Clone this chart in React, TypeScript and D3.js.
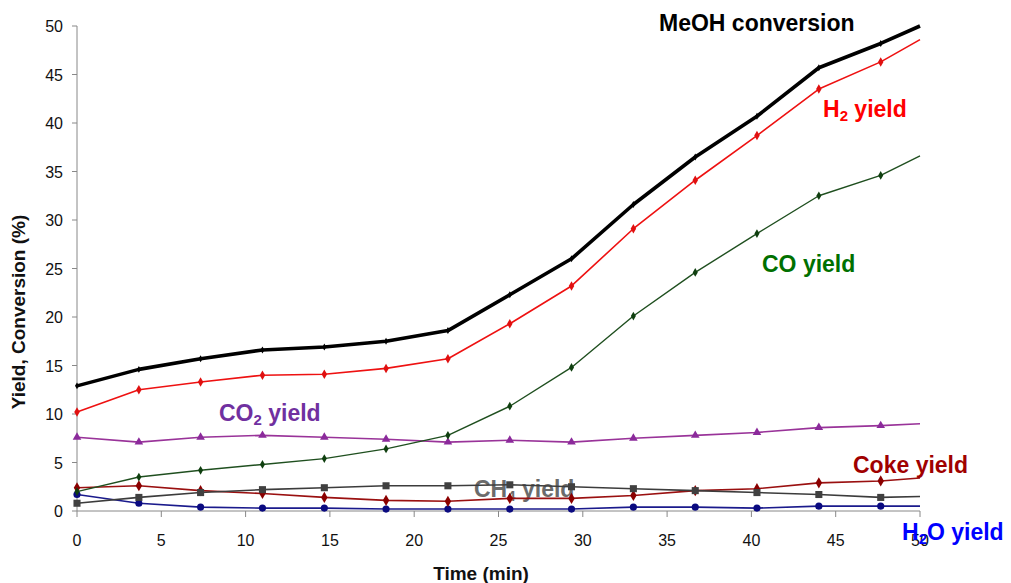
import React from "react";
import * as d3 from "d3";

// Sampling times (min); the final entry marks where each trace meets the frame edge
const times = [0, 3.67, 7.33, 11, 14.67, 18.33, 22, 25.67, 29.33, 33, 36.67, 40.33, 44, 47.67, 50];

const meohConversion = [12.9, 14.6, 15.7, 16.6, 16.9, 17.5, 18.6, 22.3, 26.0, 31.6, 36.5, 40.7, 45.7, 48.2, 50.0];
const h2Yield = [10.2, 12.5, 13.3, 14.0, 14.1, 14.7, 15.7, 19.3, 23.2, 29.1, 34.1, 38.7, 43.5, 46.3, 48.6];
const coYield = [2.0, 3.5, 4.2, 4.8, 5.4, 6.4, 7.8, 10.8, 14.8, 20.1, 24.6, 28.6, 32.5, 34.6, 36.6];
const co2Yield = [7.6, 7.1, 7.6, 7.8, 7.6, 7.4, 7.1, 7.3, 7.1, 7.5, 7.8, 8.1, 8.6, 8.8, 9.0];
const ch4Yield = [0.8, 1.4, 1.9, 2.2, 2.4, 2.6, 2.6, 2.7, 2.5, 2.3, 2.1, 1.9, 1.7, 1.4, 1.5];
const cokeYield = [2.4, 2.6, 2.1, 1.8, 1.4, 1.1, 1.0, 1.3, 1.3, 1.6, 2.1, 2.3, 2.9, 3.1, 3.4];
const h2oYield = [1.7, 0.8, 0.4, 0.3, 0.3, 0.2, 0.2, 0.2, 0.2, 0.4, 0.4, 0.3, 0.5, 0.5, 0.5];

const xTicks = [0, 5, 10, 15, 20, 25, 30, 35, 40, 45, 50];
const yTicks = [0, 5, 10, 15, 20, 25, 30, 35, 40, 45, 50];

type Series = {
  name: string;
  values: number[];
  stroke: string;
  width: number;
  marker: d3.SymbolType;
  markerSize: number;
  markerFill: string;
};

const seriesList: Series[] = [
  { name: "h2o", values: h2oYield, stroke: "#1a1a8c", width: 1.6, marker: d3.symbolCircle, markerSize: 40, markerFill: "#0a0a80" },
  { name: "coke", values: cokeYield, stroke: "#9a1010", width: 1.6, marker: d3.symbolDiamond, markerSize: 36, markerFill: "#8b0000" },
  { name: "ch4", values: ch4Yield, stroke: "#3c3c3c", width: 1.6, marker: d3.symbolSquare, markerSize: 50, markerFill: "#404040" },
  { name: "co2", values: co2Yield, stroke: "#993399", width: 1.6, marker: d3.symbolTriangle, markerSize: 32, markerFill: "#8b2a9b" },
  { name: "co", values: coYield, stroke: "#1f4f1f", width: 1.4, marker: d3.symbolDiamond, markerSize: 22, markerFill: "#0f3f0f" },
  { name: "h2", values: h2Yield, stroke: "#ee1111", width: 1.6, marker: d3.symbolDiamond, markerSize: 26, markerFill: "#e01010" },
  { name: "meoh", values: meohConversion, stroke: "#000000", width: 3.6, marker: d3.symbolDiamond, markerSize: 14, markerFill: "#000000" },
];

type Label = { text: string; sub?: string; rest?: string; x: number; y: number; color: string };

const labels: Label[] = [
  { text: "MeOH conversion", x: 659, y: 31, color: "#000000" },
  { text: "H", sub: "2", rest: " yield", x: 823, y: 117, color: "#ff0000" },
  { text: "CO yield", x: 762, y: 272, color: "#007000" },
  { text: "CO", sub: "2", rest: " yield", x: 219, y: 421, color: "#7030a0" },
  { text: "Coke yield", x: 853, y: 473, color: "#a00000" },
  { text: "H", sub: "2", rest: "O yield", x: 902, y: 540, color: "#0000ff" },
];

const W = 1011;
const H = 583;
const left = 77;
const right = 920;
const top = 26;
const bottom = 511;

const LABEL_SIZE = 23;
const SUB_SIZE = 15;

export default function App() {
  const x = d3.scaleLinear().domain([0, 50]).range([left, right]);
  const y = d3.scaleLinear().domain([0, 50]).range([bottom, top]);
  const line = d3
    .line<number>()
    .x((_, i) => x(times[i]))
    .y((v) => y(v));

  const font = "'Liberation Sans', Arial, sans-serif";

  return (
    <svg
      width={W}
      height={H}
      style={{ position: "absolute", left: 0, top: 0, background: "#fff" }}
      fontFamily={font}
    >
      {/* CH4 label sits beneath its own trace */}
      <text x={474} y={497} fontSize={LABEL_SIZE} fontWeight="bold" fill="#6b6b6b">
        CH<tspan fontSize={SUB_SIZE} dy={4}>4</tspan>
        <tspan dy={-4}> yield</tspan>
      </text>

      {/* axes */}
      <line x1={left} x2={left} y1={top} y2={bottom} stroke="#888" strokeWidth={1} />
      <line x1={left} x2={right} y1={bottom} y2={bottom} stroke="#888" strokeWidth={1} />
      {yTicks.map((t) => (
        <g key={"y" + t}>
          <line x1={left - 5} x2={left} y1={y(t)} y2={y(t)} stroke="#888" />
          <text x={63} y={y(t) + 6} textAnchor="end" fontSize={16} fill="#111">
            {t}
          </text>
        </g>
      ))}
      {xTicks.map((t) => (
        <g key={"x" + t}>
          <line x1={x(t)} x2={x(t)} y1={bottom} y2={bottom + 6} stroke="#888" />
          <text x={x(t)} y={546} textAnchor="middle" fontSize={16} fill="#111">
            {t}
          </text>
        </g>
      ))}
      <text x={481} y={580} textAnchor="middle" fontSize={19} fontWeight="bold" fill="#111">
        Time (min)
      </text>
      <text
        transform={`translate(25, 312) rotate(-90)`}
        textAnchor="middle"
        fontSize={19}
        fontWeight="bold"
        fill="#111"
      >
        Yield, Conversion (%)
      </text>

      {/* traces */}
      {seriesList.map((s) => (
        <g key={s.name}>
          <path d={line(s.values) ?? ""} fill="none" stroke={s.stroke} strokeWidth={s.width} strokeLinejoin="round" />
          {s.values.slice(0, -1).map((v, i) => (
            <path
              key={i}
              transform={`translate(${x(times[i])},${y(v)})`}
              d={d3.symbol().type(s.marker).size(s.markerSize)() ?? ""}
              fill={s.markerFill}
            />
          ))}
        </g>
      ))}

      {/* series labels */}
      {labels.map((l) => (
        <text key={l.text + (l.rest ?? "")} x={l.x} y={l.y} fontSize={LABEL_SIZE} fontWeight="bold" fill={l.color}>
          {l.text}
          {l.sub && (
            <tspan fontSize={SUB_SIZE} dy={4}>
              {l.sub}
            </tspan>
          )}
          {l.rest && <tspan dy={-4}>{l.rest}</tspan>}
        </text>
      ))}
    </svg>
  );
}
